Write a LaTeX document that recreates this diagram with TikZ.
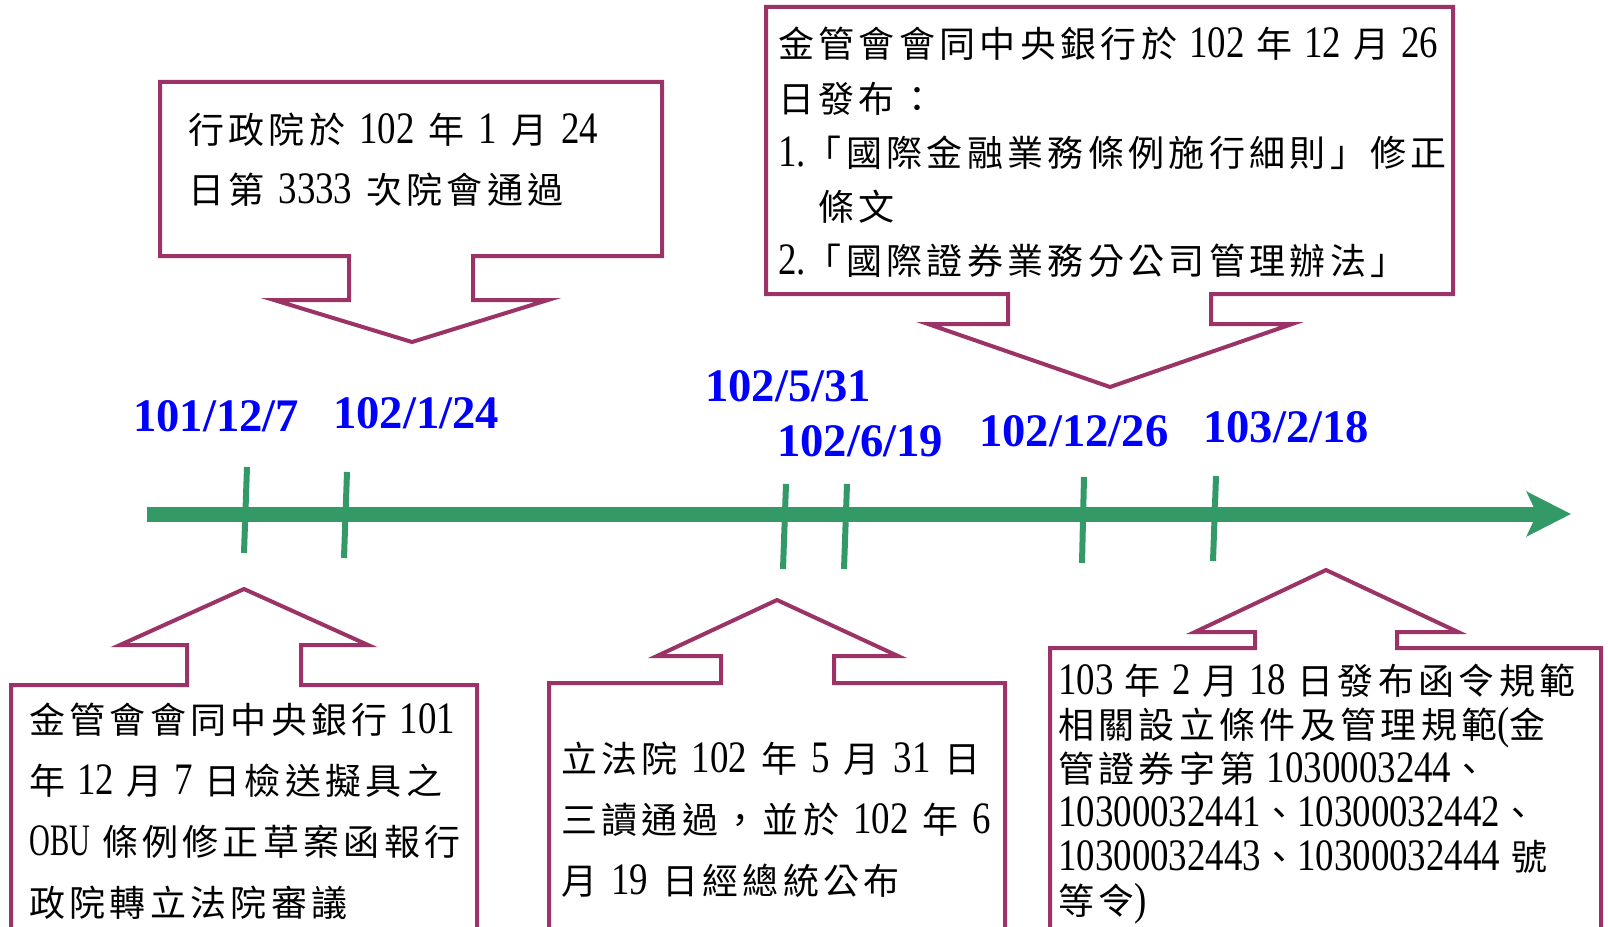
\documentclass[tikz,border=0pt]{standalone}
\usepackage{fontspec}
\setmainfont{Noto Sans CJK TC}[LetterSpace=12]
\newfontfamily\nmf{Liberation Serif}[FakeStretch=0.82,Scale=1.25]
\newfontfamily\nmnf{Liberation Serif}[FakeStretch=0.64,Scale=1.25]
\newfontfamily\datef{Liberation Serif}
\usetikzlibrary{arrows.meta}
\definecolor{cpurple}{RGB}{155,51,102}
\definecolor{cgreen}{RGB}{51,153,102}
\definecolor{cblue}{RGB}{0,0,255}
\newcommand\nm[1]{{\nmf #1}}
\newcommand\nmn[1]{{\nmnf #1}}
\tikzset{
  callout/.style={draw=cpurple,line width=3pt,line join=miter},
  tick/.style={draw=cgreen,line width=4.5pt},
  datelbl/.style={anchor=base west,inner sep=0pt,text=cblue,font={\datef\bfseries\fontsize{35pt}{35pt}\selectfont}},
  boxtext/.style={anchor=base west,inner sep=0pt,align=left,text=black},
}
\begin{document}
\begin{tikzpicture}[x=0.75pt,y=-0.75pt]
\useasboundingbox (0,0) rectangle (1608,927);
\fill[white] (0,0) rectangle (1608,927);
\begin{scope}
\clip (0,0) rectangle (1608,927);
% top callouts
\draw[callout] (160,82) -- (662,82) -- (662,256) -- (473,256) -- (473,300) -- (548,300) -- (412,342) -- (274,300) -- (349,300) -- (349,256) -- (160,256) -- cycle;
\draw[callout] (766,7) -- (1453,7) -- (1453,294) -- (1211,294) -- (1211,324) -- (1292,324) -- (1110,387) -- (928,324) -- (1008,324) -- (1008,294) -- (766,294) -- cycle;
% bottom callouts
\draw[callout] (11,940) -- (11,685) -- (187,685) -- (187,645) -- (120,645) -- (244,589) -- (368,645) -- (301,645) -- (301,685) -- (477,685) -- (477,940);
\draw[callout] (549,940) -- (549,683) -- (721,683) -- (721,656) -- (657,656) -- (777,600) -- (898,656) -- (834,656) -- (834,683) -- (1005,683) -- (1005,940);
\draw[callout] (1050,940) -- (1050,648) -- (1255,648) -- (1255,632) -- (1195,632) -- (1326,570) -- (1458,632) -- (1397,632) -- (1397,648) -- (1601,648) -- (1601,940);
\end{scope}
% timeline
\coordinate (tlstart) at (147,514);
\coordinate (tlend) at (1571,514);
\draw[cgreen,line width=11.25pt,-{Stealth[length=33pt,width=33pt,inset=7.5pt]}] (tlstart) -- (tlend);
% ticks
\coordinate (t1a) at (247,467); \coordinate (t1b) at (244,553);
\coordinate (t2a) at (347,472); \coordinate (t2b) at (344,558);
\coordinate (t3a) at (786,484); \coordinate (t3b) at (783,569);
\coordinate (t4a) at (847,484); \coordinate (t4b) at (844,569);
\coordinate (t5a) at (1084,477); \coordinate (t5b) at (1082,563);
\coordinate (t6a) at (1216,476); \coordinate (t6b) at (1213,561);
\draw[tick] (t1a) -- (t1b);
\draw[tick] (t2a) -- (t2b);
\draw[tick] (t3a) -- (t3b);
\draw[tick] (t4a) -- (t4b);
\draw[tick] (t5a) -- (t5b);
\draw[tick] (t6a) -- (t6b);
% dates
\node[datelbl] (d1) at (133,431) {101/12/7};
\node[datelbl] (d2) at (333,428) {102/1/24};
\node[datelbl] (d3) at (705,401) {102/5/31};
\node[datelbl] (d4) at (777,456) {102/6/19};
\node[datelbl] (d5) at (979,446) {102/12/26};
\node[datelbl] (d6) at (1203,442) {103/2/18};
% box texts (anchor = baseline of last line)
\node[boxtext,font={\fontsize{27pt}{45pt}\selectfont\spaceskip=10.5pt}] (b1) at (188,204)
  {行政院於 \nm{102} 年 \nm{1} 月 \nm{24}\\日第 \nm{3333} 次院會通過};
\node[boxtext,font={\fontsize{27pt}{40.5pt}\selectfont\spaceskip=9pt}] (b2) at (778,274)
  {金管會會同中央銀行於 \nm{102} 年 \nm{12} 月 \nm{26}\\
   日發布：\\
   \nm{1.}「國際金融業務條例施行細則」修正\\
   \hspace*{30pt}條文\\
   \nm{2.}「國際證券業務分公司管理辦法」};
\node[boxtext,font={\fontsize{27pt}{45.75pt}\selectfont\spaceskip=9pt}] (b3) at (29,916)
  {金管會會同中央銀行 \nm{101}\\
   年 \nm{12} 月 \nm{7} 日檢送擬具之\\
   \nmn{OBU} 條例修正草案函報行\\
   政院轉立法院審議};
\node[boxtext,font={\fontsize{27pt}{45.75pt}\selectfont\spaceskip=10.5pt}] (b4) at (561,894)
  {立法院 \nm{102} 年 \nm{5} 月 \nm{31} 日\\
   三讀通過，並於 \nm{102} 年 \nm{6}\\
   月 \nm{19} 日經總統公布};
\node[boxtext,font={\fontsize{27pt}{33pt}\selectfont\spaceskip=8.5pt}] (b5) at (1058,914)
  {\nm{103} 年 \nm{2} 月 \nm{18} 日發布函令規範\\
   相關設立條件及管理規範\nm{(}金\\
   管證券字第 \nm{1030003244}、\\
   \nm{10300032441}、\nm{10300032442}、\\
   \nm{10300032443}、\nm{10300032444} 號\\
   等令\nm{)}};
\end{tikzpicture}
\end{document}
